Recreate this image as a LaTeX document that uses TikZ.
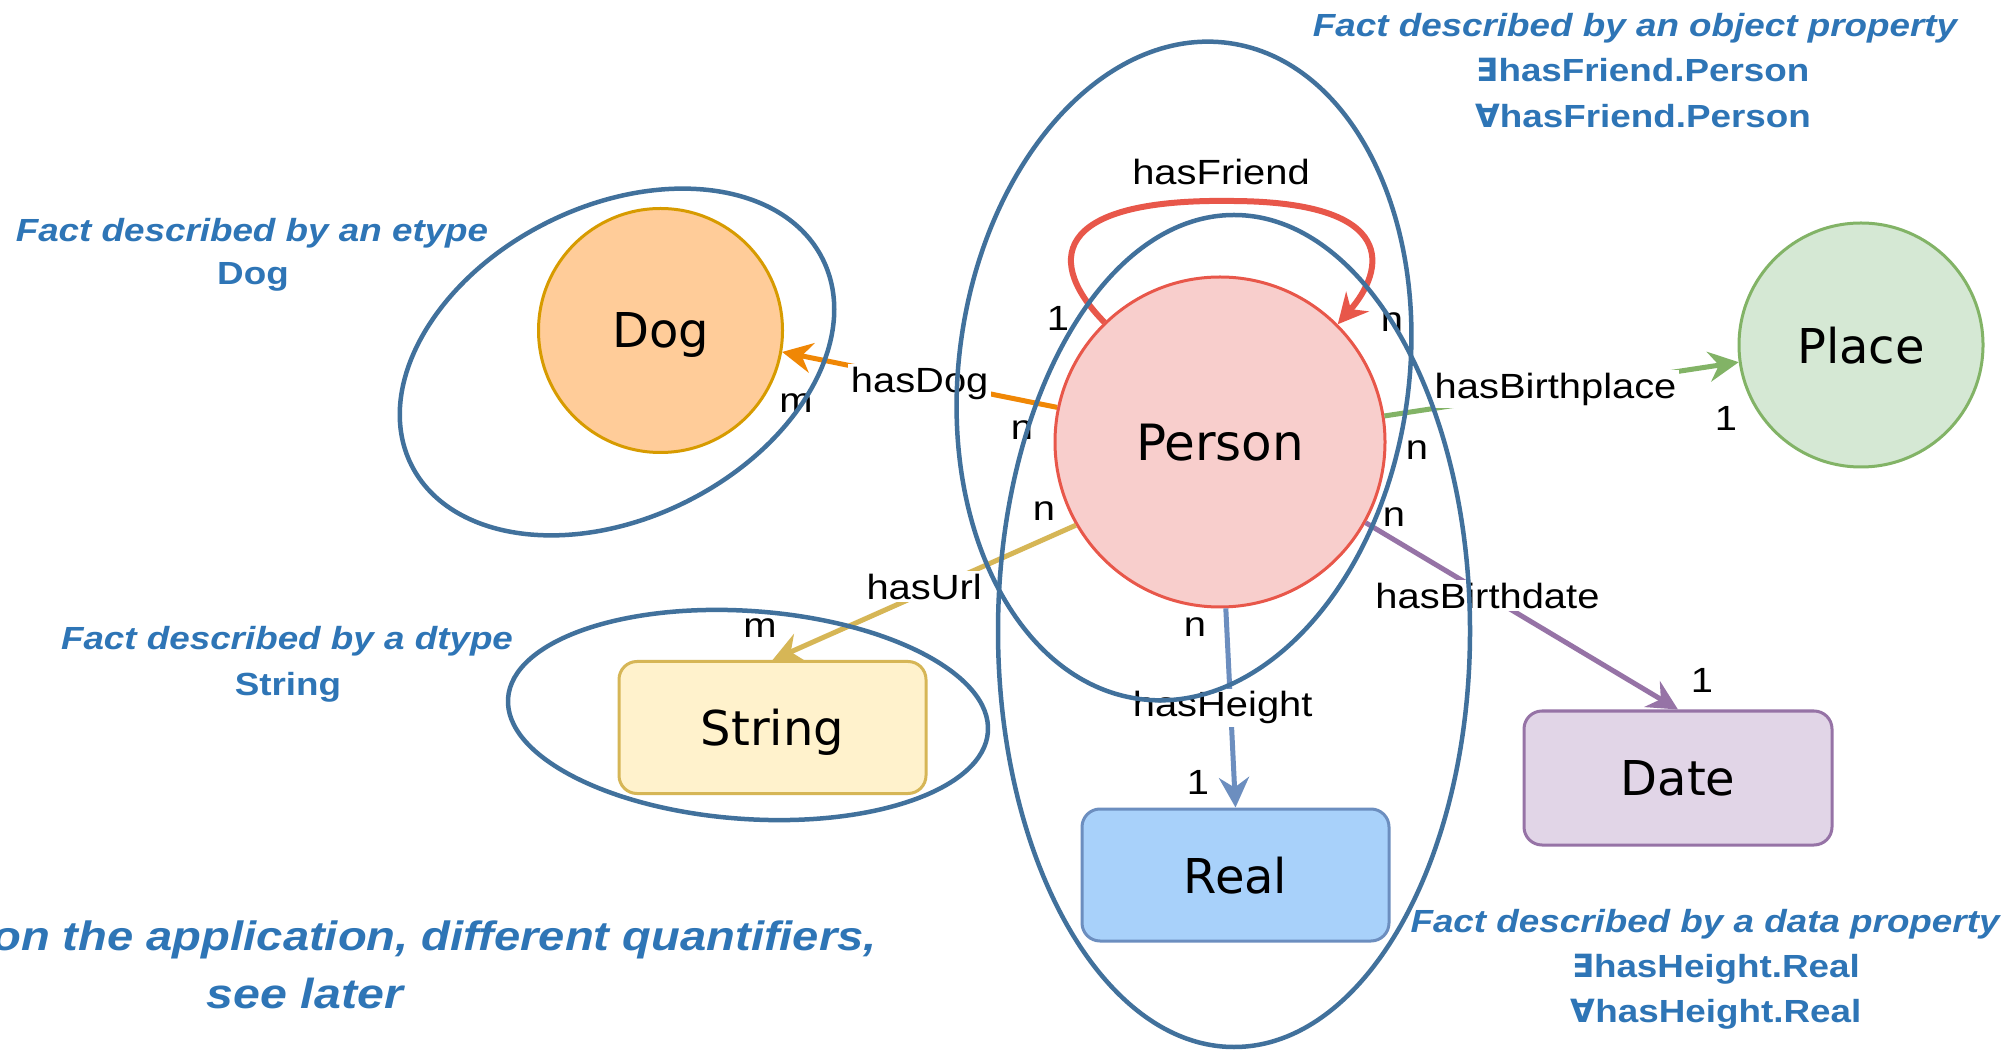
\documentclass[tikz,border=0pt]{standalone}
\usepackage{fontspec}
\setmainfont{Liberation Sans}
\newfontfamily\nodefam{DejaVu Sans}
\newfontfamily\lblfam[FakeStretch=1.14]{Liberation Sans}
\newfontfamily\annfam[FakeStretch=1.15]{Liberation Sans}
\newfontfamily\symfam{DejaVu Sans}
\usetikzlibrary{arrows.meta,shapes.geometric}
\newcommand\myNodeFont{\nodefam\fontsize{48}{56}\selectfont}
\newcommand\myLblFont{\lblfam\fontsize{35}{42}\selectfont}
\newcommand\myAnnIt{\annfam\bfseries\itshape\fontsize{32}{38}\selectfont}
\newcommand\myAnnBf{\annfam\bfseries\fontsize{32}{38}\selectfont}
\newcommand\myBigIt{\annfam\bfseries\itshape\fontsize{41}{50}\selectfont}
\newcommand\myBigItB{\annfam\bfseries\itshape\fontsize{42}{50}\selectfont}
\newcommand\ex{{\symfam\bfseries ∃}}
\newcommand\fa{{\symfam\bfseries ∀}}
\definecolor{factblue}{HTML}{41719C}
\definecolor{anntext}{HTML}{2E75B6}
\definecolor{cRed}{HTML}{E8574A}
\definecolor{cRedFill}{HTML}{F8CECC}
\definecolor{cOrange}{HTML}{F08705}
\definecolor{cOrFill}{HTML}{FFCC99}
\definecolor{cOrDraw}{HTML}{D79B00}
\definecolor{cGreen}{HTML}{82B366}
\definecolor{cGrFill}{HTML}{D5E8D4}
\definecolor{cYel}{HTML}{D6B656}
\definecolor{cYelFill}{HTML}{FFF2CC}
\definecolor{cBlue}{HTML}{6C8EBF}
\definecolor{cBlueFill}{HTML}{A8D1FA}
\definecolor{cPur}{HTML}{9673A6}
\definecolor{cPurFill}{HTML}{E1D5E7}
\tikzset{
  ent/.style={circle, draw, line width=3pt, inner sep=0pt, text depth=0pt, font=\myNodeFont},
  dtbox/.style={rectangle, rounded corners=18pt, draw, line width=3pt, text depth=0pt,
    minimum width=307pt, minimum height=132pt, font=\myNodeFont},
  rel/.style={line width=5pt, -{Stealth[length=30pt,width=30pt,inset=10pt]}},
  elab/.style={fill=white, inner sep=3pt, text=black, font=\myLblFont},
  mult/.style={inner sep=0pt, font=\myLblFont},
  factell/.style={ellipse, draw=factblue, line width=4.5pt, inner sep=0pt},
  ann/.style={text=anntext, inner sep=0pt, anchor=base},
}
\begin{document}
\begin{tikzpicture}[x=1pt,y=1pt]
\useasboundingbox (0,0) rectangle (2009,1050);
\fill[white] (0,0) rectangle (2009,1050);

% entity and datatype nodes
\node[ent, fill=cRedFill, draw=cRed, minimum size=330pt, font=\nodefam\fontsize{50}{58}\selectfont] (P) at (1220,608) {Person};
\node[ent, fill=cOrFill, draw=cOrDraw, minimum size=244pt] (D) at (660.5,719.5) {Dog};
\node[ent, fill=cGrFill, draw=cGreen, minimum size=244pt] (Pl) at (1861,705) {Place};
\node[dtbox, fill=cYelFill, draw=cYel] (S) at (772.5,322.5) {String};
\node[dtbox, fill=cBlueFill, draw=cBlue] (R) at (1235.5,175) {Real};
\node[dtbox, fill=cPurFill, draw=cPur, minimum width=308pt, minimum height=134pt] (Dt) at (1678,272) {Date};

% relations
\draw[rel, cOrange] (P.168.9) -- node[elab, yshift=-4pt]{hasDog} (D.-10.7);
\draw[rel, cYel] (P.210.3) -- node[elab, yshift=6pt]{hasUrl} (S.north);
\draw[rel, cBlue] (P.272.4) -- node[elab, xshift=-8pt]{hasHeight} (R.north);
\draw[rel, cPur] (P.331.4) -- node[elab, pos=0.39]{hasBirthdate} (Dt.north);
\draw[rel, cGreen] (P.9.6) -- node[elab, xshift=-6pt]{hasBirthplace} (Pl.188);
\draw[rel, cRed, line width=6pt] (P.134.5) .. controls (1048,785) and (1046,852) .. (1233,849)
  .. controls (1400,848) and (1385,780) .. (P.45.5);
\node[mult] (lf) at (1221,878) {hasFriend};

% multiplicities
\node[mult] (m1) at (796,647) {m};
\node[mult] (m2) at (1022,620) {n};
\node[mult] (m3) at (1044,539) {n};
\node[mult] (m4) at (760,422) {m};
\node[mult] (m5) at (1195,423) {n};
\node[mult] (m6) at (1198,268) {1};
\node[mult] (m7) at (1394,533) {n};
\node[mult] (m8) at (1702,370) {1};
\node[mult] (m9) at (1417,600) {n};
\node[mult] (m10) at (1726,632) {1};
\node[mult] (m11) at (1058,732) {1};
\node[mult] (m12) at (1392,728) {n};

% fact ellipses
\node[factell, minimum width=460pt, minimum height=312pt, rotate=26.6] (fDog) at (617,688) {};
\node[factell, minimum width=481pt, minimum height=208pt, rotate=-4] (fStr) at (748,335) {};
\node[factell, minimum width=450pt, minimum height=662pt, rotate=-7.8] (fObj) at (1184,679) {};
\node[factell, minimum width=472pt, minimum height=832pt] (fDat) at (1234,419) {};

% annotations
\node[ann, font=\myAnnIt] (a1) at (1635,1013) {Fact described by an object property};
\node[ann, font=\myAnnBf] (a2) at (1643,968) {\ex hasFriend.Person};
\node[ann, font=\myAnnBf] (a3) at (1643,922) {\fa hasFriend.Person};
\node[ann, font=\myAnnIt] (b1) at (252,808) {Fact described by an etype};
\node[ann, font=\myAnnBf] (b2) at (253,765) {Dog};
\node[ann, font=\myAnnIt] (c1) at (287,400) {Fact described by a dtype};
\node[ann, font=\myAnnBf] (c2) at (288,355) {String};
\node[ann, font=\myAnnIt] (d1) at (1705,118) {Fact described by a data property};
\node[ann, font=\myAnnBf] (d2) at (1716,73) {\ex hasHeight.Real};
\node[ann, font=\myAnnBf] (d3) at (1716,28) {\fa hasHeight.Real};
\node[ann, font=\myBigIt, anchor=base east] (e1) at (877,100) {on the application, different quantifiers,};
\node[ann, font=\myBigItB] (e2) at (305,42) {see later};
\end{tikzpicture}
\end{document}
